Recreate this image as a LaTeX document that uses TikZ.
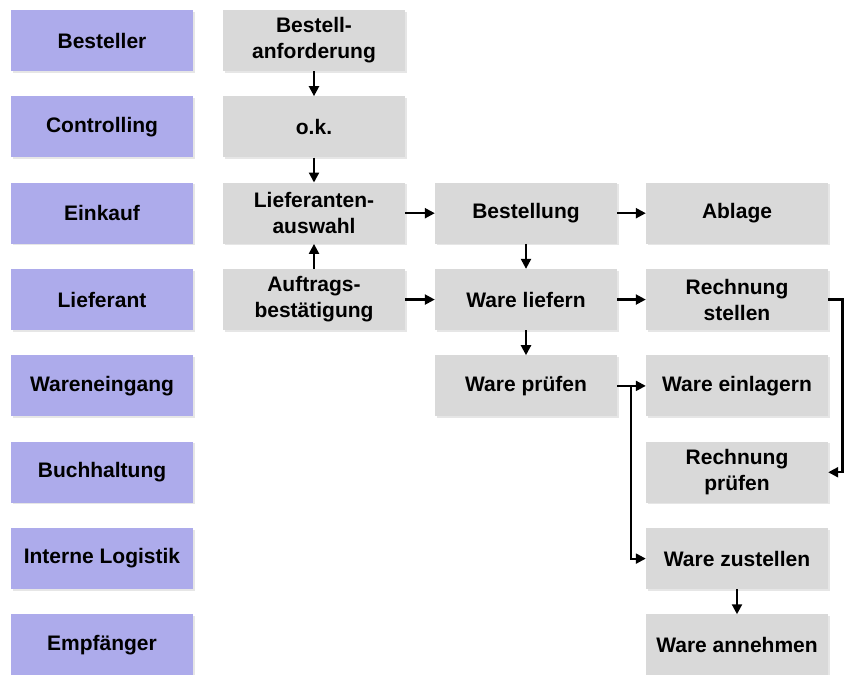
\documentclass[tikz,border=0pt]{standalone}
\usepackage{fontspec}
\setmainfont{Liberation Sans}
\usepackage{tikz}
\usetikzlibrary{arrows.meta,positioning,shadows,calc}
\definecolor{rolle}{HTML}{ADABEB}
\definecolor{schritt}{HTML}{D9D9D9}
\tikzset{%
  role box/.style={%
    fill=rolle,
    minimum width=182pt,
    minimum height=61pt,
    inner sep=0pt,
    align=center,
    font=\fontsize{21}{26}\selectfont\bfseries,
    drop shadow={shadow xshift=1.5pt,shadow yshift=-1.5pt,opacity=0.2}
  }
}
\tikzset{%
  task box/.style={%
    role box,
    fill=schritt
  }
}
\tikzset{%
  flow/.style={%
    line width=2.2pt,
    -{Triangle[length=10pt,width=10pt]}
  }
}

\begin{document}
\begin{tikzpicture}[x=1pt,y=-1pt]
  \useasboundingbox (0,0) rectangle (844,675);
  % roles
  \node [role box] (best) at (102, 40.5) {Besteller};
  \node [role box] (ctrl) at (102, 126.85) {Controlling};
  \node [role box] (eink) at (102, 213.2) {Einkauf};
  \node [role box] (lfrt) at (102, 299.55) {Lieferant};
  \node [role box] (weing) at (102, 385.9) {Wareneingang};
  \node [role box] (buch) at (102, 472.25) {Buchhaltung};
  \node [role box] (logi) at (102, 558.6) {Interne Logistik};
  \node [role box] (empf) at (102, 644.95) {Empfänger};
  % steps
  \node [task box] (anf) at (314, 40.5) {Bestell-\\anforderung};
  \node [task box] (ok) at (314, 126.85) {o.k.};
  \node [task box] (wahl) at (314, 213.2) {Lieferanten-\\auswahl};
  \node [task box] (auf) at (314, 299.55) {Auftrags-\\bestätigung};
  \node [task box] (bstl) at (526, 213.2) {Bestellung};
  \node [task box] (liefern) at (526, 299.55) {Ware liefern};
  \node [task box] (pruef) at (526, 385.9) {Ware prüfen};
  \node [task box] (abl) at (737, 213.2) {Ablage};
  \node [task box] (rstell) at (737, 299.55) {Rechnung\\stellen};
  \node [task box] (einl) at (737, 385.9) {Ware einlagern};
  \node [task box] (rpruef) at (737, 472.25) {Rechnung\\prüfen};
  \node [task box] (zust) at (737, 558.6) {Ware zustellen};
  \node [task box] (annehm) at (737, 644.95) {Ware annehmen};
  \coordinate (split) at (631, 385.9);
  \coordinate (rand) at (842.5, 0);
  \draw [flow] (anf.south) -- (ok.north);
  \draw [flow] (ok.south) -- (wahl.north);
  \draw [flow] (auf.north) -- (wahl.south);
  \draw [flow] (wahl.east) -- (bstl.west);
  \draw [flow] (bstl.east) -- (abl.west);
  \draw [flow] (bstl.south) -- (liefern.north);
  \draw [flow] (auf.east) -- (liefern.west);
  \draw [flow] (liefern.east) -- (rstell.west);
  \draw [flow] (liefern.south) -- (pruef.north);
  \draw [flow] (pruef.east) -- (einl.west);
  \draw [flow] (split) |- (zust.west);
  \draw [flow] (rstell.east) -- (rstell.east -| rand) |- (rpruef.east);
  \draw [flow] (zust.south) -- (annehm.north);
\end{tikzpicture}
\end{document}
